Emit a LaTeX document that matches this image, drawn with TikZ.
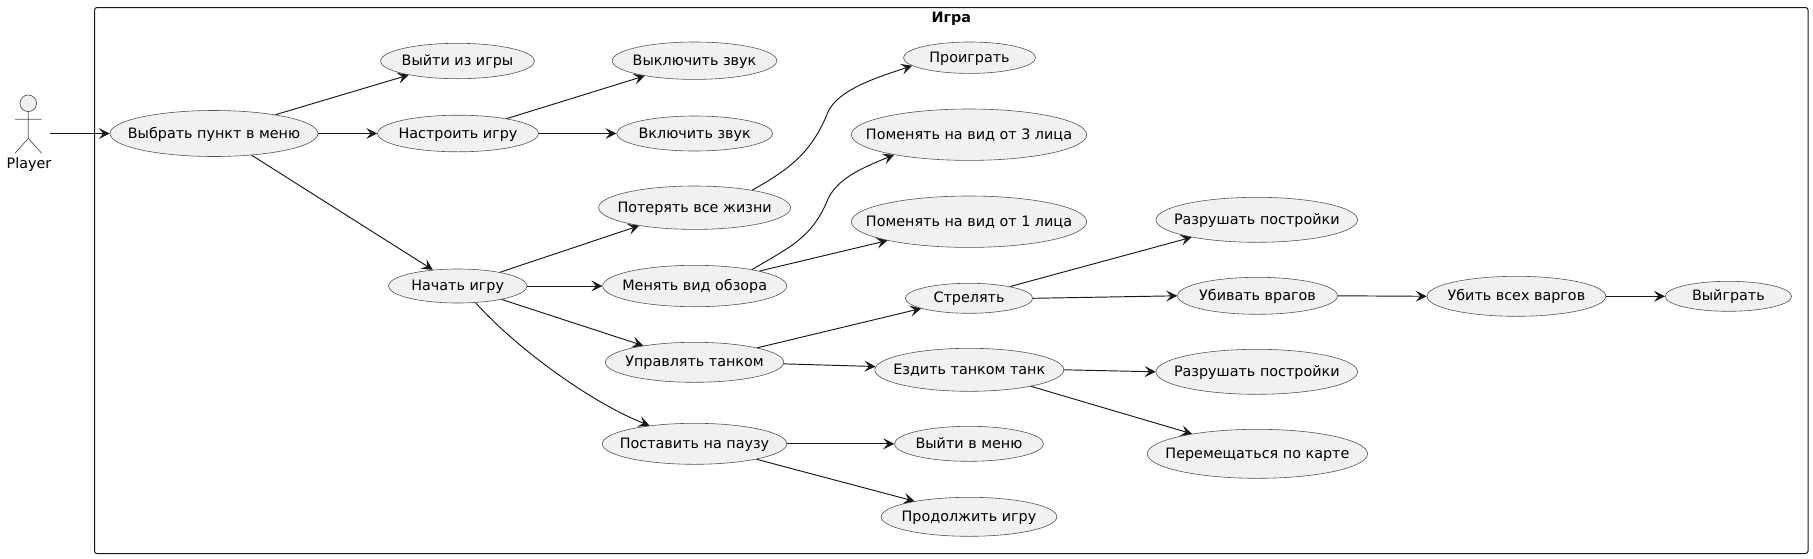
\documentclass[tikz,border=0pt]{standalone}
\usepackage{fontspec}
\setmainfont{DejaVu Sans}
\usetikzlibrary{shapes.geometric,arrows.meta}
\definecolor{ink}{HTML}{181818}
\definecolor{edgegrey}{HTML}{555555}
\definecolor{ucfill}{HTML}{F1F1F1}
\newcommand{\uctext}[1]{\makebox[0pt]{#1}}
\tikzset{
  uc/.style={ellipse,draw=edgegrey,line width=0.6pt,fill=ucfill,inner sep=0pt,font=\fontsize{14.35}{17}\selectfont,text=black,text height=11pt,text depth=2pt},
  conn/.style={draw=ink,line width=0.95pt,-{Stealth[length=11pt,width=11pt,inset=4.5pt]}},
  stick/.style={draw=edgegrey,line width=0.7pt},
  frame/.style={draw=ink,line width=1pt,rounded corners=2.5pt}
}
\begin{document}
\begin{tikzpicture}[x=1pt,y=-1pt]
\useasboundingbox (0,0) rectangle (1813,558);
\node[frame,minimum width=1713.5pt,minimum height=546pt,inner sep=0pt] (box) at (951.25,280.5) {};
\node[font=\bfseries\fontsize{14.35}{17}\selectfont,inner sep=0pt] (title) at (951.3,18.3) {Игра};
% actor
\node[circle,draw=edgegrey,line width=0.7pt,fill=ucfill,minimum size=16.6pt,inner sep=0pt] (head) at (28.3,103.3) {};
\coordinate (hip) at (28.3,138.3);
\coordinate (lfoot) at (15,153.3);
\coordinate (rfoot) at (41.7,153.3);
\coordinate (larm) at (15,119.3);
\coordinate (rarm) at (41.7,119.3);
\draw[stick] (head.south) -- (hip) -- (lfoot) (hip) -- (rfoot) (larm) -- (rarm);
\node[font=\fontsize{14.35}{17}\selectfont,inner sep=0pt,text height=11pt,text depth=3pt] (player) at (29,164) {Player};
\coordinate (actorout) at (50,133.5);
% use cases
\node[uc,minimum width=208pt,minimum height=46pt] (menu) at (214,133.5) {\uctext{Выбрать пункт в меню}};
\node[uc,minimum width=154pt,minimum height=35.4pt] (quit) at (457.5,61) {\uctext{Выйти из игры}};
\node[uc,minimum width=161pt,minimum height=36.6pt] (setup) at (458,133.5) {\uctext{Настроить игру}};
\node[uc,minimum width=138.6pt,minimum height=34pt] (start) at (457.7,286) {\uctext{Начать игру}};
\node[uc,minimum width=164.6pt,minimum height=37.4pt] (soff) at (694.5,60.7) {\uctext{Выключить звук}};
\node[uc,minimum width=156pt,minimum height=35pt] (son) at (694.7,133.5) {\uctext{Включить звук}};
\node[uc,minimum width=192pt,minimum height=43.4pt] (lose) at (694.6,207.7) {\uctext{Потерять все жизни}};
\node[uc,minimum width=184pt,minimum height=41.4pt] (view) at (694.7,286) {\uctext{Менять вид обзора}};
\node[uc,minimum width=178.4pt,minimum height=40pt] (drive) at (694.5,362.3) {\uctext{Управлять танком}};
\node[uc,minimum width=184.4pt,minimum height=41pt] (pause) at (694.5,443.8) {\uctext{Поставить на паузу}};
\node[uc,minimum width=132pt,minimum height=31.4pt] (lost) at (969.5,57.7) {\uctext{Проиграть}};
\node[uc,minimum width=235.4pt,minimum height=51.4pt] (third) at (969,134.7) {\uctext{Поменять на вид от 3 лица}};
\node[uc,minimum width=235.4pt,minimum height=51.4pt] (first) at (969,221.7) {\uctext{Поменять на вид от 1 лица}};
\node[uc,minimum width=127.4pt,minimum height=30pt] (shoot) at (969,298.3) {\uctext{Стрелять}};
\node[uc,minimum width=189pt,minimum height=43pt] (ride) at (969.3,369.8) {\uctext{Ездить танком танк}};
\node[uc,minimum width=149pt,minimum height=35pt] (tomenu) at (969,443.8) {\uctext{Выйти в меню}};
\node[uc,minimum width=175.7pt,minimum height=39pt] (resume) at (969,516.8) {\uctext{Продолжить игру}};
\node[uc,minimum width=201.6pt,minimum height=45pt] (ruina) at (1256.8,219.8) {\uctext{Разрушать постройки}};
\node[uc,minimum width=160pt,minimum height=37pt] (kill) at (1257.5,295.8) {\uctext{Убивать врагов}};
\node[uc,minimum width=201.6pt,minimum height=45pt] (ruinb) at (1256.8,371.8) {\uctext{Разрушать постройки}};
\node[uc,minimum width=220.3pt,minimum height=49pt] (move) at (1257.4,453.8) {\uctext{Перемещаться по карте}};
\node[uc,minimum width=178.8pt,minimum height=40pt] (killall) at (1516.4,296.3) {\uctext{Убить всех варгов}};
\node[uc,minimum width=126.4pt,minimum height=30pt] (win) at (1728.4,296.3) {\uctext{Выйграть}};
% connectors
\draw[conn] (actorout) -- (menu.west);
\draw[conn] (menu.17.1) -- (quit.196.2);
\draw[conn] (menu.east) -- (setup.west);
\draw[conn] (menu.-30.9) -- (start.147.6);
\draw[conn] (setup.17) -- (soff.197.2);
\draw[conn] (setup.east) -- (son.west);
\draw[conn] (start.18) -- (lose.198.3);
\draw[conn] (start.east) -- (view.west);
\draw[conn] (start.-17.6) -- (drive.162.3);
\draw[conn] (start.-43.3) .. controls (515,347) and (590,402) .. (pause.158.6);
\draw[conn] (lose.17.4) .. controls (790,169) and (812,152) .. (828,112) .. controls (838,90) and (875,78) .. (lost.188.2);
\draw[conn] (view.16.7) .. controls (790,247) and (812,238) .. (828,199) .. controls (838,178) and (862,168) .. (third.195.3);
\draw[conn] (view.13.8) -- (first.193.8);
\draw[conn] (drive.13.7) -- (shoot.192.5);
\draw[conn] (drive.-1.3) -- (ride.178.7);
\draw[conn] (pause.east) -- (tomenu.west);
\draw[conn] (pause.-14.1) -- (resume.164.9);
\draw[conn] (shoot.16) -- (ruina.195.1);
\draw[conn] (shoot.east) -- (kill.west);
\draw[conn] (ride.east) -- (ruinb.west);
\draw[conn] (ride.-15.7) -- (move.163.7);
\draw[conn] (kill.east) -- (killall.west);
\draw[conn] (killall.east) -- (win.west);
\end{tikzpicture}
\end{document}
